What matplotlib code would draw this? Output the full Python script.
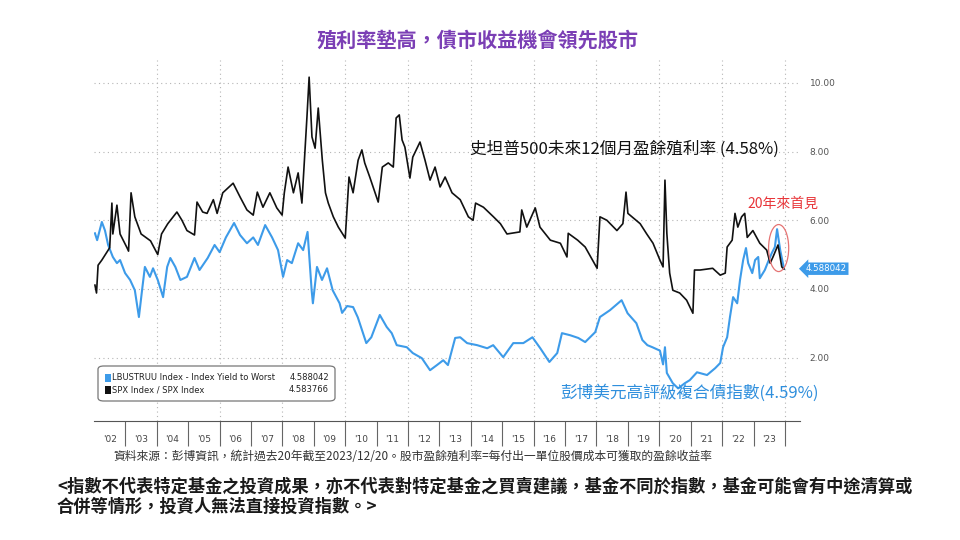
import matplotlib
matplotlib.use("Agg")
import matplotlib.pyplot as plt
from matplotlib.patches import Ellipse, FancyBboxPatch, Rectangle

plt.rcParams["font.family"] = ["Noto Sans CJK TC", "DejaVu Sans"]

# S&P 500 forward 12m earnings yield (%) (decimal year, value)
spx_t = [2002.03, 2002.08, 2002.13, 2002.25, 2002.50, 2002.57, 2002.60, 2002.73, 2002.83,
         2003.05, 2003.10, 2003.18, 2003.30, 2003.50, 2003.80, 2004.03, 2004.15, 2004.35,
         2004.64, 2004.80, 2004.96, 2005.20, 2005.28, 2005.46, 2005.60, 2005.80, 2005.92,
         2006.10, 2006.43, 2006.65, 2006.87, 2007.07, 2007.20, 2007.38, 2007.60, 2007.82,
         2007.99, 2008.06, 2008.18, 2008.35, 2008.50, 2008.62, 2008.78, 2008.85, 2008.94,
         2009.04, 2009.14, 2009.27, 2009.37, 2009.46, 2009.62, 2009.78, 2010.00, 2010.12,
         2010.25, 2010.41, 2010.53, 2010.62, 2010.78, 2011.05, 2011.18, 2011.37, 2011.53,
         2011.62, 2011.72, 2011.81, 2011.90, 2012.06, 2012.15, 2012.38, 2012.54, 2012.70,
         2012.86, 2013.02, 2013.18, 2013.40, 2013.66, 2013.92, 2014.07, 2014.15, 2014.40,
         2014.72, 2014.94, 2015.15, 2015.56, 2015.62, 2015.78, 2016.05, 2016.20, 2016.53,
         2016.85, 2017.06, 2017.10, 2017.40, 2017.64, 2018.02, 2018.11, 2018.33, 2018.65,
         2018.84, 2018.94, 2019.00, 2019.39, 2019.60, 2019.80, 2020.02, 2020.12, 2020.18,
         2020.24, 2020.33, 2020.43, 2020.65, 2020.87, 2021.07, 2021.12, 2021.30, 2021.70,
         2021.94, 2022.10, 2022.16, 2022.32, 2022.41, 2022.50, 2022.62, 2022.72, 2022.80,
         2022.98, 2023.20, 2023.42, 2023.53, 2023.62, 2023.78, 2023.90, 2023.97]
spx_v = [4.11, 3.88, 4.69, 4.84, 5.20, 6.50, 5.60, 6.44, 5.60,
         5.20, 5.10, 6.80, 6.10, 5.60, 5.40, 5.00, 5.60, 5.90,
         6.24, 6.00, 5.70, 5.57, 6.53, 6.24, 6.20, 6.60, 6.20,
         6.80, 7.08, 6.68, 6.30, 6.15, 6.82, 6.38, 6.80, 6.36,
         6.15, 6.80, 7.55, 6.80, 7.38, 6.50, 9.00, 10.17, 8.43,
         8.10, 9.27, 7.75, 6.80, 6.50, 6.10, 5.80, 5.48, 7.26,
         6.80, 7.75, 8.05, 7.67, 7.26, 6.53, 7.55, 7.67, 7.55,
         8.98, 9.07, 8.34, 8.13, 7.23, 7.84, 8.28, 7.75, 7.17,
         7.55, 6.97, 7.26, 6.80, 6.60, 6.10, 6.00, 6.50, 6.38,
         6.10, 5.90, 5.60, 5.66, 6.30, 5.80, 6.36, 5.80, 5.42,
         5.33, 4.93, 5.62, 5.42, 5.22, 4.60, 6.10, 6.00, 5.70,
         5.90, 6.82, 6.20, 5.90, 5.60, 5.33, 4.84, 4.64, 7.17,
         5.62, 4.46, 3.96, 3.88, 3.67, 3.29, 4.55, 4.55, 4.60,
         4.40, 4.46, 5.22, 5.42, 6.20, 5.80, 6.10, 6.20, 5.50,
         5.70, 5.33, 5.13, 4.75, 4.93, 5.28, 4.64, 4.58]

# Bloomberg US Agg yield to worst (%)
bond_t = [2002.03, 2002.10, 2002.25, 2002.35, 2002.45, 2002.60, 2002.73, 2002.83, 2002.99,
          2003.15, 2003.30, 2003.43, 2003.53, 2003.62, 2003.78, 2003.88, 2004.03, 2004.20,
          2004.33, 2004.43, 2004.59, 2004.75, 2004.96, 2005.20, 2005.36, 2005.62, 2005.84,
          2006.00, 2006.20, 2006.46, 2006.65, 2006.87, 2007.07, 2007.22, 2007.45, 2007.67,
          2007.86, 2008.02, 2008.15, 2008.30, 2008.50, 2008.66, 2008.80, 2008.93, 2008.97,
          2009.10, 2009.26, 2009.42, 2009.60, 2009.82, 2009.90, 2010.06, 2010.25, 2010.40,
          2010.67, 2010.83, 2011.10, 2011.32, 2011.48, 2011.64, 2011.96, 2012.15, 2012.44,
          2012.70, 2012.92, 2013.12, 2013.27, 2013.50, 2013.66, 2013.88, 2014.20, 2014.52,
          2014.71, 2015.03, 2015.35, 2015.67, 2015.96, 2016.21, 2016.50, 2016.75, 2016.90,
          2017.16, 2017.42, 2017.64, 2017.96, 2018.11, 2018.43, 2018.80, 2018.99, 2019.27,
          2019.46, 2019.62, 2019.78, 2020.02, 2020.12, 2020.18, 2020.24, 2020.43, 2020.60,
          2020.81, 2020.97, 2021.20, 2021.52, 2021.78, 2021.94, 2022.03, 2022.16, 2022.25,
          2022.35, 2022.48, 2022.57, 2022.67, 2022.76, 2022.83, 2022.96, 2023.05, 2023.15,
          2023.20, 2023.36, 2023.46, 2023.58, 2023.68, 2023.75, 2023.85, 2023.97]
bond_v = [5.62, 5.42, 5.95, 5.70, 5.28, 4.93, 4.75, 4.84, 4.46,
          4.26, 3.96, 3.18, 3.96, 4.64, 4.35, 4.60, 4.26, 3.76,
          4.64, 4.90, 4.64, 4.26, 4.35, 4.90, 4.55, 4.90, 5.28,
          5.07, 5.50, 5.92, 5.57, 5.33, 5.50, 5.28, 5.86, 5.50,
          5.13, 4.35, 4.84, 4.75, 5.33, 5.13, 5.66, 3.96, 3.58,
          4.64, 4.26, 4.60, 3.96, 3.58, 3.30, 3.50, 3.47, 3.17,
          2.42, 2.59, 3.24, 2.89, 2.71, 2.36, 2.30, 2.13, 1.98,
          1.63, 1.78, 1.92, 1.78, 2.57, 2.59, 2.42, 2.36, 2.27,
          2.36, 2.01, 2.42, 2.42, 2.59, 2.27, 1.87, 2.13, 2.71,
          2.65, 2.57, 2.45, 2.74, 3.18, 3.38, 3.67, 3.29, 3.00,
          2.51, 2.36, 2.30, 2.20, 1.80, 2.30, 1.55, 1.25, 1.10,
          1.25, 1.34, 1.57, 1.49, 1.69, 1.84, 2.30, 2.59, 3.18,
          3.76, 3.58, 4.26, 4.84, 5.19, 4.75, 4.46, 4.84, 4.93,
          4.31, 4.55, 4.78, 5.04, 5.22, 5.74, 5.13, 4.59]

YEARS = list(range(2002, 2024))
YEAR_LABELS = ["'%02d" % (y % 100) for y in YEARS]
GRID_Y = [2, 4, 6, 8, 10]
LAST_BOND, LAST_SPX = 4.588042, 4.583766

BLUE, BLACK = "#3d9be9", "#111111"

fig = plt.figure(figsize=(9.6, 5.4), dpi=100)
ax = fig.add_axes([94 / 960, 1 - 421 / 540, 706 / 960, 361 / 540])
ax.set_xlim(2002.0, 2024.48)
ax.set_ylim(0.15, 10.67)

dots = (0, (1, 3))
for v in GRID_Y:
    ax.axhline(v, color="#b5b5b5", lw=0.8, ls=dots, zorder=0)
for yr in range(2004, 2025, 2):
    ax.axvline(yr, color="#b5b5b5", lw=0.8, ls=dots, zorder=0)

ax.plot(bond_t, bond_v, color=BLUE, lw=1.5, zorder=2)
ax.plot(spx_t, spx_v, color=BLACK, lw=1.2, zorder=3)

for s in ("top", "left", "right"):
    ax.spines[s].set_visible(False)
ax.spines["bottom"].set_color("#555555")

# year separators as major ticks, labels on minor ticks at mid-year
ax.set_xticks(range(2003, 2025))
ax.set_xticklabels([])
ax.tick_params(axis="x", which="major", length=18, width=0.8, color="#666666", direction="out")
ax.set_xticks([y + 0.5 for y in YEARS], minor=True)
ax.set_xticklabels(YEAR_LABELS, minor=True, fontsize=6.5, color="#444444", family="DejaVu Sans")
ax.tick_params(axis="x", which="minor", length=0, pad=10)

ax.yaxis.tick_right()
ax.set_yticks(GRID_Y)
ax.set_yticklabels(["%.2f" % v for v in GRID_Y], fontsize=6.5, color="#555555", family="DejaVu Sans")
ax.tick_params(axis="y", length=0, pad=7)

ax.text(1.008, LAST_BOND, "%.6f" % LAST_BOND, transform=ax.get_yaxis_transform(),
        ha="left", va="center", fontsize=6.2, color="white", family="DejaVu Sans",
        bbox=dict(boxstyle="larrow,pad=0.2", fc=BLUE, ec="none"))

ax.add_patch(Ellipse((2023.8, 5.19), 0.64, 1.37, fill=False, ec="#e57373", lw=0.9, zorder=4))
ax.text(2023.94, 6.47, "20年來首見", color="#e8363a", fontsize=10, ha="center", va="center")

ax.text(2013.97, 8.08, "史坦普500未來12個月盈餘殖利率 (4.58%)", color="#111111",
        fontsize=12, ha="left", va="center")
ax.text(2016.84, 0.96, "彭博美元高評級複合債指數(4.59%)", color="#2f8fdd",
        fontsize=12, ha="left", va="center")

# legend box
fig.patches.append(FancyBboxPatch((98 / 960, 1 - 401 / 540), 237 / 960, 35 / 540,
                                  boxstyle="round,pad=0,rounding_size=0.006",
                                  transform=fig.transFigure, fc="white", ec="#777777", lw=0.9))
rows = [(BLUE, "LBUSTRUU Index - Index Yield to Worst", LAST_BOND, 378),
        (BLACK, "SPX Index / SPX Index", LAST_SPX, 390)]
for col, name, val, py in rows:
    fig.patches.append(Rectangle((105 / 960, 1 - (py + 4) / 540), 6 / 960, 8 / 540,
                                 transform=fig.transFigure, fc=col, ec="none"))
    fig.text(112 / 960, 1 - py / 540, name, fontsize=6, va="center", ha="left",
             color="#222222", family="DejaVu Sans")
    fig.text(329 / 960, 1 - py / 540, "%.6f" % val, fontsize=6, va="center", ha="right",
             color="#222222", family="DejaVu Sans")

fig.text(0.497, 1 - 40 / 540, "殖利率墊高，債市收益機會領先股市", color="#7b3fb5",
         fontsize=14.5, fontweight="bold", ha="center", va="center")
fig.text(113 / 960, 1 - 457 / 540,
         "資料來源：彭博資訊，統計過去20年截至2023/12/20。股市盈餘殖利率=每付出一單位股價成本可獲取的盈餘收益率",
         fontsize=8.5, color="#333333", ha="left", va="center")
fig.text(57 / 960, 1 - 487 / 540,
         "<指數不代表特定基金之投資成果，亦不代表對特定基金之買賣建議，基金不同於指數，基金可能會有中途清算或",
         fontsize=12.4, fontweight="bold", color="#1a1a1a", ha="left", va="center")
fig.text(57 / 960, 1 - 507 / 540, "合併等情形，投資人無法直接投資指數。>",
         fontsize=12.4, fontweight="bold", color="#1a1a1a", ha="left", va="center")

fig.savefig("out.png", dpi=100)
